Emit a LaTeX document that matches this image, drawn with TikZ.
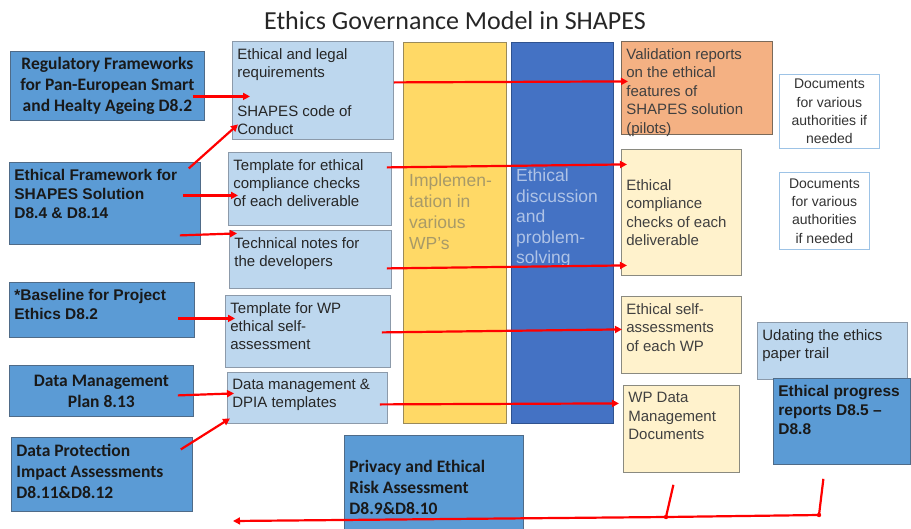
\documentclass[tikz,border=0pt]{standalone}
\usepackage{fontspec}
\setmainfont{Liberation Sans}
\newfontfamily\calfont{Carlito}
\usetikzlibrary{arrows.meta}

\definecolor{darkfill}{HTML}{5B9BD5}
\definecolor{darkedge}{HTML}{4F6B88}
\definecolor{lightfill}{HTML}{BDD7EE}
\definecolor{lightedge}{HTML}{8C9AAA}
\definecolor{implfill}{HTML}{FFD966}
\definecolor{impledge}{HTML}{9A8A5A}
\definecolor{discfill}{HTML}{4472C4}
\definecolor{discedge}{HTML}{2F528F}
\definecolor{orangefill}{HTML}{F4B183}
\definecolor{orangeedge}{HTML}{7A6A5A}
\definecolor{creamfill}{HTML}{FFF2CC}
\definecolor{creamedge}{HTML}{8A8A80}
\definecolor{docedge}{HTML}{9DC3E6}
\definecolor{impltext}{HTML}{A89A68}
\definecolor{disctext}{HTML}{AFC3E6}

% text block of a box: width, height, vertical position, text
\newcommand{\boxtext}[4]{\parbox[c][\dimexpr#2pt-14pt\relax][#3]{\dimexpr#1pt-10pt\relax}{\raggedright #4}}

\tikzset{
  cellbox/.style={anchor=north west, inner xsep=5pt, inner ysep=7pt, line width=0.8pt},
  darkcell/.style={cellbox, draw=darkedge, fill=darkfill, text=black!90},
  lightcell/.style={cellbox, draw=lightedge, fill=lightfill, text=black!85, font=\fontsize{15}{18}\selectfont},
  orangecell/.style={cellbox, draw=orangeedge, fill=orangefill, text=black!75, font=\fontsize{15}{18.5}\selectfont},
  creamcell/.style={cellbox, draw=creamedge, fill=creamfill, text=black!75, font=\fontsize{15}{18.5}\selectfont},
  doccell/.style={cellbox, draw=docedge, fill=white, text=black!80, font=\fontsize{14}{18.3}\selectfont},
  arialbold/.style={font=\bfseries\fontsize{15.5}{19}\selectfont},
  calbold/.style={font=\calfont\bfseries\fontsize{17.5}{21}\selectfont},
  column/.style={anchor=north west, inner sep=0pt, line width=0.8pt, minimum width=#1},
  collabel/.style={anchor=north west, inner sep=0pt, align=left},
  redline/.style={red, line width=2.2pt},
  redarrow/.style={redline, -{Triangle[length=7pt,width=7pt]}}
}

\begin{document}
\begin{tikzpicture}[x=1pt, y=-1pt]
\useasboundingbox (0,0) rectangle (911,528);

\node[font=\calfont\fontsize{26}{30}\selectfont, text=black!85] (title) at (455,20.5) {Ethics Governance Model in SHAPES};

% sources
\node[darkcell, calbold] (regfw) at (10,51) {\boxtext{194}{69}{c}{\centering Regulatory Frameworks\\for Pan-European Smart\\and Healty Ageing D8.2}};
\node[darkcell, arialbold] (ethfw) at (9,162) {\boxtext{191}{82}{t}{Ethical Framework for\\SHAPES Solution\\D8.4 \& D8.14}};
\node[darkcell, arialbold] (projbase) at (9,282) {\boxtext{185}{55}{t}{*Baseline for Project\\Ethics D8.2}};
\node[darkcell, calbold] (dmp) at (9,365) {\boxtext{184}{51}{c}{\centering Data Management\\Plan 8.13}};
\node[darkcell, calbold] (dpia) at (11,437) {\boxtext{181}{74}{t}{Data Protection\\Impact Assessments\\D8.11\&D8.12}};

% tools
\node[lightcell] (legal) at (232,41) {\boxtext{161}{98}{t}{Ethical and legal\\requirements\\[21pt]SHAPES code of\\Conduct}};
\node[lightcell] (tmplcomp) at (228,152) {\boxtext{163}{73}{t}{Template for ethical\\compliance checks\\of each deliverable}};
\node[lightcell] (technotes) at (229,230) {\boxtext{162}{58}{t}{Technical notes for\\the developers}};
\node[lightcell] (tmplwp) at (225,295) {\boxtext{165}{72}{t}{Template for WP\\ethical self-\\assessment}};
\node[lightcell] (dmtempl) at (227,372) {\boxtext{160}{51}{t}{Data management \&\\DPIA templates}};

% the two columns
\node[column=103pt, minimum height=381pt, draw=impledge, fill=implfill] (impl) at (403,42) {};
\node[column=102pt, minimum height=381pt, draw=discedge, fill=discfill] (disc) at (511,42) {};
\node[collabel, text=impltext, font=\fontsize{17.5}{21}\selectfont] (impllabel) at (409,174) {Implemen-\\tation in\\various\\WP’s};
\node[collabel, text=disctext, font=\fontsize{17.5}{20.5}\selectfont] (disclabel) at (516,169) {Ethical\\discussion\\and\\problem-\\solving};

% outputs
\node[orangecell] (valid) at (621,41) {\boxtext{151}{93}{t}{Validation reports\\on the ethical\\features of\\SHAPES solution\\(pilots)}};
\node[creamcell] (compl) at (621,149) {\boxtext{120}{126}{c}{Ethical\\compliance\\checks of each\\deliverable}};
\node[creamcell] (selfass) at (621,296) {\boxtext{120}{77}{t}{Ethical self-\\assessments\\of each WP}};
\node[creamcell] (wpdata) at (623,385) {\boxtext{116}{87}{t}{WP Data\\Management\\Documents}};
\node[doccell] (docsa) at (779,74) {\boxtext{100}{74}{c}{\centering Documents\\for various\\authorities if\\needed}};
\node[doccell] (docsb) at (779,172) {\boxtext{90}{77}{c}{\centering Documents\\for various\\authorities\\if needed}};
\node[lightcell] (updating) at (757,322) {\boxtext{150}{57}{t}{Udating the ethics\\paper trail}};
\node[darkcell, arialbold] (progress) at (773,378) {\boxtext{137}{86}{t}{Ethical progress\\reports D8.5 --\\D8.8}};
\node[darkcell, calbold] (privacy) at (344,435) {\boxtext{179}{105}{c}{Privacy and Ethical\\Risk Assessment\\D8.9\&D8.10}};

% sources to tools
\draw[redarrow] ([xshift=-12pt,yshift=-10.5pt]regfw.east) -- ([xshift=18pt,yshift=-6pt]legal.west);
\draw[redarrow] ([xshift=-12pt,yshift=35pt]ethfw.east) -- ([xshift=6pt,yshift=-34pt]legal.west);
\draw[redarrow] ([xshift=-18pt,yshift=8pt]ethfw.east) -- ([xshift=10pt,yshift=-6.5pt]tmplcomp.west);
\draw[redarrow] ([xshift=-21pt,yshift=-32pt]ethfw.east) -- ([xshift=8pt,yshift=26pt]technotes.west);
\draw[redarrow] ([xshift=-17pt,yshift=-8.5pt]projbase.east) -- ([xshift=10pt,yshift=13pt]tmplwp.west);
\draw[redarrow] ([xshift=-16pt,yshift=-4.5pt]dmp.east) -- ([xshift=7pt,yshift=4.5pt]dmtempl.west);
\draw[redarrow] ([xshift=-12pt,yshift=25pt]dpia.east) -- ([xshift=3pt,yshift=-20.5pt]dmtempl.west);

% tools to outputs
\draw[redarrow] ([yshift=8pt]legal.east) -- ([xshift=7pt,yshift=6.5pt]valid.west);
\draw[redarrow] ([xshift=-5pt,yshift=21.5pt]tmplcomp.east) -- ([xshift=6pt,yshift=48pt]compl.west);
\draw[redarrow] ([xshift=-5pt,yshift=-9pt]technotes.east) -- ([xshift=6pt,yshift=-53pt]compl.west);
\draw[redarrow] ([xshift=-9pt,yshift=-1pt]tmplwp.east) -- ([xshift=1pt,yshift=5.5pt]selfass.west);
\draw[redarrow] ([xshift=-8pt,yshift=-6.5pt]dmtempl.east) -- ([xshift=-4pt,yshift=25.5pt]wpdata.west);

% paper trail back
\coordinate (wpfoot) at ([xshift=-8pt,yshift=-12pt]wpdata.south);
\coordinate (progfoot) at ([xshift=-18.5pt,yshift=-14pt]progress.south);
\coordinate (wpknee) at (666,517);
\coordinate (progknee) at (819,515);
\coordinate (trailend) at (233,521);
\draw[redline] (wpfoot) -- (wpknee);
\draw[redline] (progfoot) -- (progknee) -- (wpknee);
\draw[redarrow] (wpknee) -- (trailend);
\fill[red] (wpknee) circle (2.2pt) (progknee) circle (2.2pt);
\end{tikzpicture}
\end{document}
